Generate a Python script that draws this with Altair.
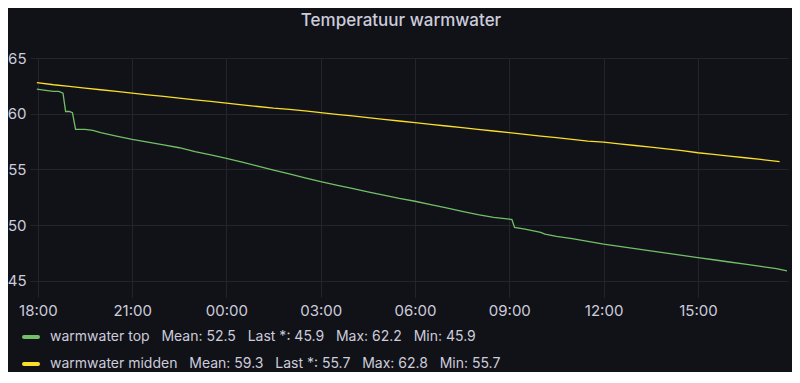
import altair as alt
import pandas as pd

# ---- data ----
top_times = ["2023-01-01T17:58", "2023-01-01T18:15", "2023-01-01T18:30", "2023-01-01T18:40",
             "2023-01-01T18:48", "2023-01-01T18:53", "2023-01-01T19:00", "2023-01-01T19:06",
             "2023-01-01T19:12", "2023-01-01T19:30", "2023-01-01T19:45", "2023-01-01T20:00",
             "2023-01-01T20:30", "2023-01-01T21:00", "2023-01-01T21:30", "2023-01-01T22:00",
             "2023-01-01T22:30", "2023-01-01T23:00", "2023-01-01T23:30", "2023-01-02T00:00",
             "2023-01-02T00:30", "2023-01-02T01:00", "2023-01-02T01:30", "2023-01-02T02:00",
             "2023-01-02T02:30", "2023-01-02T03:00", "2023-01-02T03:30", "2023-01-02T04:00",
             "2023-01-02T04:30", "2023-01-02T05:00", "2023-01-02T05:30", "2023-01-02T06:00",
             "2023-01-02T06:30", "2023-01-02T07:00", "2023-01-02T07:30", "2023-01-02T08:00",
             "2023-01-02T08:30", "2023-01-02T09:00", "2023-01-02T09:05", "2023-01-02T09:10",
             "2023-01-02T09:30", "2023-01-02T10:00", "2023-01-02T10:08", "2023-01-02T10:30",
             "2023-01-02T11:00", "2023-01-02T11:30", "2023-01-02T12:00", "2023-01-02T12:30",
             "2023-01-02T13:00", "2023-01-02T13:30", "2023-01-02T14:00", "2023-01-02T14:30",
             "2023-01-02T15:00", "2023-01-02T15:30", "2023-01-02T16:00", "2023-01-02T16:30",
             "2023-01-02T17:00", "2023-01-02T17:30", "2023-01-02T17:50"]
top_values = [62.2, 62.1, 62.0, 62.0,
              61.85, 60.2, 60.2, 60.1,
              58.6, 58.6, 58.5, 58.3,
              58.0, 57.7, 57.45, 57.2,
              56.95, 56.6, 56.3, 56.0,
              55.65, 55.3, 54.95, 54.6,
              54.25, 53.9, 53.6, 53.3,
              53.0, 52.7, 52.4, 52.15,
              51.85, 51.55, 51.25, 50.95,
              50.7, 50.55, 50.5, 49.8,
              49.65, 49.35, 49.2, 49.0,
              48.8, 48.55, 48.3, 48.1,
              47.9, 47.7, 47.5, 47.3,
              47.1, 46.9, 46.7, 46.5,
              46.3, 46.1, 45.9]

mid_times = ["2023-01-01T17:58", "2023-01-01T18:30", "2023-01-01T19:00", "2023-01-01T19:30",
             "2023-01-01T20:00", "2023-01-01T20:30", "2023-01-01T21:00", "2023-01-01T21:30",
             "2023-01-01T22:00", "2023-01-01T22:30", "2023-01-01T23:00", "2023-01-01T23:30",
             "2023-01-02T00:00", "2023-01-02T00:30", "2023-01-02T01:00", "2023-01-02T01:30",
             "2023-01-02T02:00", "2023-01-02T02:30", "2023-01-02T03:00", "2023-01-02T03:30",
             "2023-01-02T04:00", "2023-01-02T04:30", "2023-01-02T05:00", "2023-01-02T05:30",
             "2023-01-02T06:00", "2023-01-02T06:30", "2023-01-02T07:00", "2023-01-02T07:30",
             "2023-01-02T08:00", "2023-01-02T08:30", "2023-01-02T09:00", "2023-01-02T09:30",
             "2023-01-02T10:00", "2023-01-02T10:30", "2023-01-02T11:00", "2023-01-02T11:30",
             "2023-01-02T12:00", "2023-01-02T12:30", "2023-01-02T13:00", "2023-01-02T13:30",
             "2023-01-02T14:00", "2023-01-02T14:30", "2023-01-02T15:00", "2023-01-02T15:30",
             "2023-01-02T16:00", "2023-01-02T16:30", "2023-01-02T17:00", "2023-01-02T17:36"]
mid_values = [62.8, 62.6, 62.45, 62.3,
              62.15, 62.0, 61.85, 61.7,
              61.55, 61.4, 61.25, 61.1,
              60.95, 60.8, 60.65, 60.5,
              60.4, 60.25, 60.1, 59.95,
              59.8, 59.65, 59.5, 59.35,
              59.2, 59.05, 58.9, 58.75,
              58.6, 58.45, 58.3, 58.15,
              58.0, 57.85, 57.7, 57.55,
              57.45, 57.3, 57.15, 57.0,
              56.85, 56.7, 56.5, 56.35,
              56.2, 56.05, 55.9, 55.7]

series_names = ["warmwater top", "warmwater midden"]
series_colors = ["#73BF69", "#FADE2A"]
stat_mean = ["52.5", "59.3"]
stat_last = ["45.9", "55.7"]
stat_max = ["62.2", "62.8"]
stat_min = ["45.9", "55.7"]
y_ticks = [45, 50, 55, 60, 65]
x_tick_hours = [(1, 18), (1, 21), (2, 0), (2, 3), (2, 6), (2, 9), (2, 12), (2, 15)]

# ---- build tables ----
df = pd.concat([
    pd.DataFrame({"time": top_times, "temp": top_values, "series": series_names[0]}),
    pd.DataFrame({"time": mid_times, "temp": mid_values, "series": series_names[1]}),
])

GAP = "\u00a0\u00a0\u00a0"
legend_rows = []
for i, name in enumerate(series_names):
    txt = (name + GAP + "Mean: " + stat_mean[i] + GAP + "Last *: " + stat_last[i]
           + GAP + "Max: " + stat_max[i] + GAP + "Min: " + stat_min[i])
    legend_rows.append(pd.DataFrame({"label": [txt], "series": [name]}))

BG = "#111217"
FG = "#ccccdc"
GRID = "#24252c"
FONT = "Inter"

x_scale = alt.Scale(domain=[alt.DateTime(year=2023, month=1, date=1, hours=17, minutes=45),
                            alt.DateTime(year=2023, month=1, date=2, hours=17, minutes=52)])
y_scale = alt.Scale(domain=[43.56, 65], nice=False, zero=False)
color_scale = alt.Scale(domain=series_names, range=series_colors)

lines = alt.Chart(df).mark_line(strokeWidth=1.3, clip=True).encode(
    x=alt.X("time:T", scale=x_scale, title=None,
            axis=alt.Axis(values=[alt.DateTime(year=2023, month=1, date=d, hours=h) for d, h in x_tick_hours],
                          format="%H:%M", labelFontSize=15, labelColor=FG, labelFont=FONT,
                          labelPadding=6, ticks=False, domain=False, gridColor=GRID,
                          labelFlush=False)),
    y=alt.Y("temp:Q", scale=y_scale, title=None,
            axis=alt.Axis(values=y_ticks, labelFontSize=15, labelColor=FG, labelFont=FONT,
                          labelPadding=4, ticks=False, domain=False, gridColor=GRID)),
    color=alt.Color("series:N", scale=color_scale, legend=None),
    detail="series:N",
)

layers = [lines]
row_y = [279, 306]
for i in range(len(series_names)):
    icon = alt.Chart(legend_rows[i]).mark_rule(strokeWidth=4, strokeCap="round").encode(
        x=alt.value(-6), x2=alt.value(8), y=alt.value(row_y[i]),
        color=alt.Color("series:N", scale=color_scale, legend=None),
    )
    text = alt.Chart(legend_rows[i]).mark_text(
        align="left", baseline="middle", fontSize=14, font=FONT, color=FG
    ).encode(x=alt.value(20), y=alt.value(row_y[i]), text="label:N")
    layers += [icon, text]

chart = alt.layer(*layers).properties(
    width=758, height=239,
    autosize=alt.AutoSizeParams(type="none"),
    padding={"left": 22, "top": 50, "right": 4, "bottom": 75},
    background=BG,
    title=alt.TitleParams("Temperatuur warmwater", fontSize=17, fontWeight=500, font=FONT,
                          color=FG, anchor="middle", dx=-8, offset=21),
).configure_view(stroke=None)

chart.save("out.html", embed_options={"renderer": "svg", "actions": False})
